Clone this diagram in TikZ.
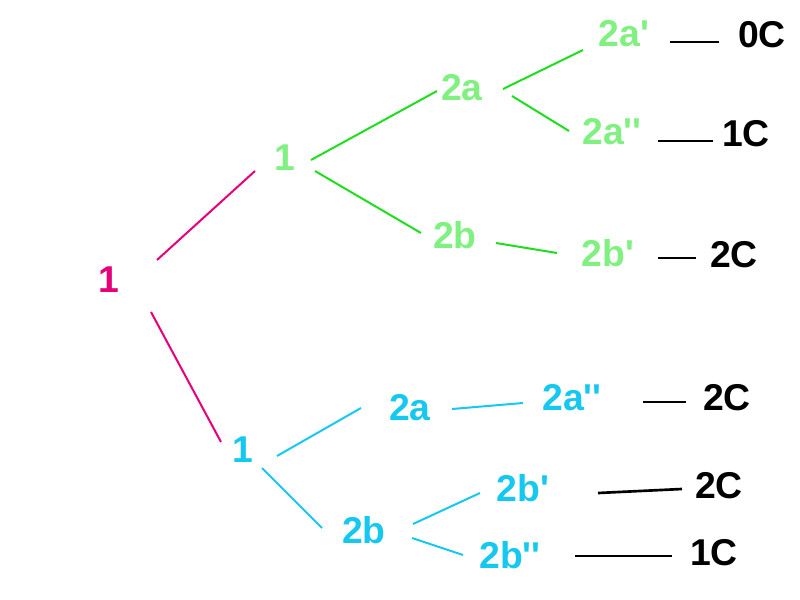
\documentclass[tikz,border=0pt]{standalone}
\usepackage{fontspec}
\setmainfont{Liberation Sans}[Ligatures=TeXOff]
\usepackage{tikz}
\usetikzlibrary{calc}
\definecolor{pinkc}{RGB}{230,0,122}
\definecolor{greenline}{RGB}{30,222,30}
\definecolor{greentext}{RGB}{128,240,128}
\definecolor{bluec}{RGB}{22,200,240}

\begin{document}
\begin{tikzpicture}[x=0.75pt,y=-0.75pt,
	lbl/.style={inner sep=0pt,font=\fontsize{28}{30}\selectfont\bfseries},
	pinkline/.style={draw=pinkc,line width=1.5pt},
	greenedge/.style={draw=greenline,line width=1.5pt},
	blueedge/.style={draw=bluec,line width=1.5pt},
	resline/.style={draw=black,line width=1.5pt}]
\useasboundingbox (0,0) rectangle (800,600);

\node[lbl,text=pinkc] (root) at (109,280) {1};
\node[lbl,text=greentext] (g1) at (285,158) {1};
\node[lbl,text=bluec] (b1) at (243,450) {1};

\node[lbl,text=greentext] (g2a) at (462,88) {2a};
\node[lbl,text=greentext] (g2b) at (455,235) {2b};
\node[lbl,text=greentext] (g2a1) at (624,34) {2a'};
\node[lbl,text=greentext] (g2a2) at (612,132) {2a''};
\node[lbl,text=greentext] (g2b1) at (608,253) {2b'};
\node[lbl] (r1) at (762,35) {0C};
\node[lbl] (r2) at (746,134) {1C};
\node[lbl] (r3) at (734,255) {2C};

\node[lbl,text=bluec] (b2a) at (410,408) {2a};
\node[lbl,text=bluec] (b2b) at (364,530) {2b};
\node[lbl,text=bluec] (b2a2) at (572,398) {2a''};
\node[lbl,text=bluec] (b2b1) at (523,488) {2b'};
\node[lbl,text=bluec] (b2b2) at (510,555) {2b''};
\node[lbl] (r4) at (727,398) {2C};
\node[lbl] (r5) at (719,486) {2C};
\node[lbl] (r6) at (714,553) {1C};

\draw[pinkline] ($(root)+(48,-20)$)--($(g1)+(-30,13)$);
\draw[pinkline] ($(root)+(42,32)$)--($(b1)+(-22,-8)$);

\draw[greenedge] ($(g1)+(26,2)$)--($(g2a)+(-25,3)$);
\draw[greenedge] ($(g1)+(30,13)$)--($(g2b)+(-34,-2)$);
\draw[greenedge] ($(g2a)+(41,1)$)--($(g2a1)+(-41,16)$);
\draw[greenedge] ($(g2a)+(50,8)$)--($(g2a2)+(-43,-1)$);
\draw[greenedge] ($(g2b)+(41,8)$)--($(g2b1)+(-51,0)$);
\draw[resline] ($(g2a1)+(46,8)$)--($(r1)+(-43,7)$);
\draw[resline] ($(g2a2)+(46,9)$)--($(r2)+(-33,7)$);
\draw[resline] ($(g2b1)+(50,5)$)--($(r3)+(-38,3)$);

\draw[blueedge] ($(b1)+(34,6)$)--($(b2a)+(-49,0)$);
\draw[blueedge] ($(b1)+(19,18)$)--($(b2b)+(-42,-2)$);
\draw[blueedge] ($(b2a)+(42,1)$)--($(b2a2)+(-49,5)$);
\draw[blueedge] ($(b2b)+(49,-6)$)--($(b2b1)+(-43,5)$);
\draw[blueedge] ($(b2b)+(48,8)$)--($(b2b2)+(-47,0)$);
\draw[resline] ($(b2a2)+(71,4)$)--($(r4)+(-41,4)$);
\draw[resline,line width=2pt] ($(b2b1)+(75,5)$)--($(r5)+(-37,3)$);
\draw[resline] ($(b2b2)+(65,1)$)--($(r6)+(-42,3)$);

\end{tikzpicture}
\end{document}
